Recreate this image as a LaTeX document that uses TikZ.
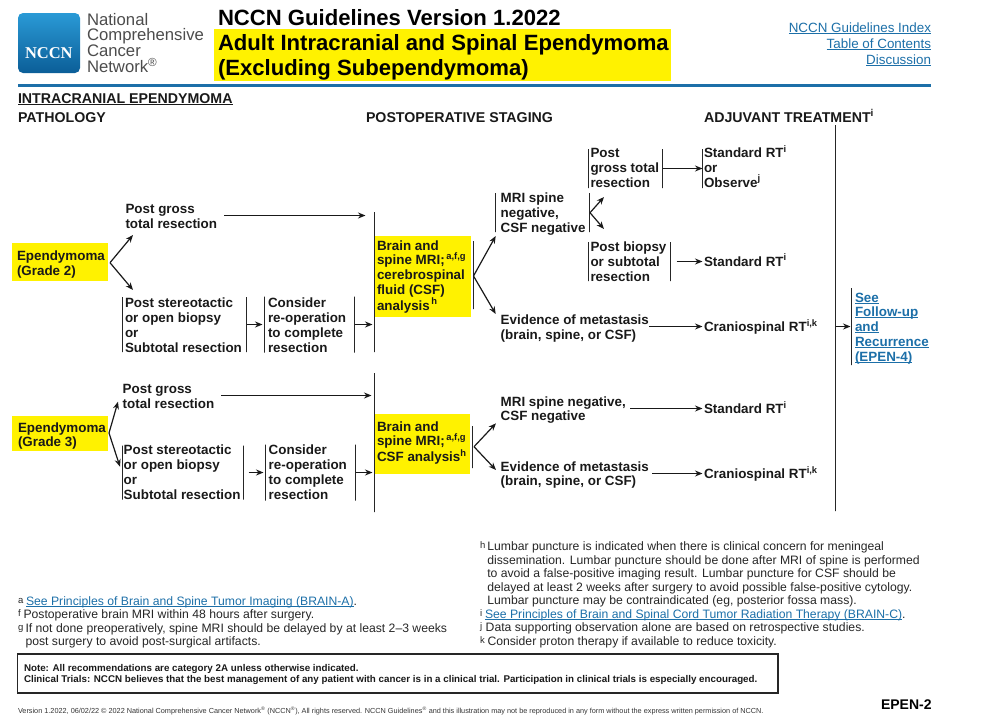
\documentclass[tikz,border=0pt]{standalone}
\usepackage{fontspec}
\setmainfont{Liberation Sans}
\newfontfamily\serifbold{Liberation Serif}
\usetikzlibrary{arrows.meta}
\definecolor{nccnblue}{HTML}{1C6FA8}
\definecolor{nccnyellow}{HTML}{FFF200}
\definecolor{logotop}{HTML}{2A9AD6}
\definecolor{logobot}{HTML}{0B5E98}
\newcommand{\uln}[1]{\setbox0\hbox{#1}\rlap{\rule[-1.3pt]{\wd0}{0.8pt}}\box0}

\begin{document}
\begin{tikzpicture}[x=1pt, y=-1pt,
    %Option for nice arrows
    >={Stealth[length=7.5pt,width=6pt]},%
    inner sep=0pt, outer sep=0pt,%
    step txt/.style={anchor=base west, align=left, font=\fontsize{13.4}{14.7}\selectfont\bfseries, text=black!90},
    link txt/.style={step txt, text=nccnblue},
    head txt/.style={anchor=base west, font=\fontsize{14.2}{14.2}\selectfont\bfseries, text=black!90},
    note txt/.style={anchor=base west, align=left, font=\fontsize{12.2}{13.5}\selectfont, text=black!85},
    notelink/.style={note txt, text=nccnblue},
    notemark/.style={anchor=base west, font=\fontsize{9.5}{9.5}\selectfont, text=black!85},
    hilite/.style={fill=nccnyellow, draw=none},
    bar/.style={draw=black!85, line width=1.2pt, minimum width=0pt, rectangle},
    arr/.style={->, line width=1.2pt, draw=black!90},
]
    \useasboundingbox (0,0) rectangle (981,720);

    % Logo
    \shade[top color=logotop, bottom color=logobot, rounded corners=5pt] (18,13) rectangle (80,73);
    \node[anchor=base west, text=white, font=\fontsize{16.5}{16.5}\selectfont\serifbold\bfseries] (logotext) at (25,58) {NCCN};
    \node[anchor=base west, align=left, text=black!70, font=\fontsize{16.7}{15.9}\selectfont] (network) at (87,72.7)
        {National\\Comprehensive\\Cancer\\Network\textsuperscript{\textregistered}};

    % Title
    \fill[nccnyellow] (214,29) rectangle (671,81);
    \node[anchor=base west, font=\fontsize{22.1}{22.1}\selectfont\bfseries] (version) at (218,25) {NCCN Guidelines Version 1.2022};
    \node[anchor=base west, align=left, font=\fontsize{22.1}{25.7}\selectfont\bfseries] (title) at (218,75.7)
        {Adult Intracranial and Spinal Ependymoma\\(Excluding Subependymoma)};
    \node[anchor=base east, align=right, text=nccnblue, font=\fontsize{13.4}{16}\selectfont] (index) at (931,64)
        {\uln{NCCN Guidelines Index}\\\uln{Table of Contents}\\\uln{Discussion}};
    \fill[nccnblue] (18,84) rectangle (931,86.5);

    % Column headings
    \node[head txt] (intra) at (18,103) {\uln{INTRACRANIAL EPENDYMOMA}};
    \node[head txt] (patho) at (18,122) {PATHOLOGY};
    \node[head txt] (staging) at (366,122) {POSTOPERATIVE STAGING};
    \node[head txt] (adjuvant) at (704,122) {ADJUVANT TREATMENT\textsuperscript{i}};

    % Highlights
    \fill[hilite] (12,243) rectangle (108,281);
    \fill[hilite] (375,236) rectangle (471,317);
    \fill[hilite] (12,416) rectangle (108,451);
    \fill[hilite] (375,414) rectangle (470,474);

    % Bars
    \foreach \name/\x/\y/\h in {
        bstereoa/122.5/324.5/55, bstereob/246.5/324.5/55, bconsa/264.5/324.5/56, bconsb/354.5/324.5/56,
        bstagea/374.5/282/140, bbraina/473.5/275/68,
        bmria/495.5/212.5/39, bmrib/589.5/212.5/39,
        bgrossa/588.5/168.5/39, bgrossb/662.5/168.5/39, bstd/702.5/168.5/39,
        bbiopa/588.5/261.5/39, bbiopb/670.5/261.5/39,
        badjuvant/835.5/318/386, bsee/851.5/326.5/77,
        bstereoc/122.5/472.5/54, bstereod/243.5/472.5/54, bconsc/265.5/472.5/56, bconsd/355.5/472.5/56,
        bstageb/374.5/442.5/139, bbrainb/472.5/447/42}
        \node[bar, minimum height=\h pt] (\name) at (\x,\y) {};

    % Grade 2
    \node[step txt] (epen2) at (17,275) {Ependymoma\\(Grade 2)};
    \node[step txt] (gross2) at (125.5,228) {Post gross\\total resection};
    \node[step txt] (stereo2) at (125,352) {Post stereotactic\\or open biopsy\\or\\Subtotal resection};
    \node[step txt] (cons2) at (268,352) {Consider\\re-operation\\to complete\\resection};
    \node[step txt] (brain2) at (377,310) {Brain and\\spine MRI;\textsuperscript{\,a,f,g}\\cerebrospinal\\fluid (CSF)\\analysis\textsuperscript{\,h}};
    \node[step txt] (mrineg) at (500.7,232) {MRI spine\\negative,\\CSF negative};
    \node[step txt] (postgross) at (590.5,187) {Post\\gross total\\resection};
    \node[step txt] (stdobs) at (704,187) {Standard RT\textsuperscript{i}\\or\\Observe\textsuperscript{j}};
    \node[step txt] (postbiop) at (590.5,281) {Post biopsy\\or subtotal\\resection};
    \node[step txt] (std2) at (704,266) {Standard RT\textsuperscript{i}};
    \node[step txt] (evid2) at (500.7,339) {Evidence of metastasis\\(brain, spine, or CSF)};
    \node[step txt] (cranio2) at (704,331.7) {Craniospinal RT\textsuperscript{i,k}};
    \node[link txt] (see) at (855,361) {\uln{See}\\\uln{Follow-up}\\\uln{and}\\\uln{Recurrence}\\\uln{(EPEN-4)}};

    % Grade 3
    \node[step txt] (epen3) at (18,446.7) {Ependymoma\\(Grade 3)};
    \node[step txt] (gross3) at (122.7,408) {Post gross\\total resection};
    \node[step txt] (stereo3) at (123.7,499) {Post stereotactic\\or open biopsy\\or\\Subtotal resection};
    \node[step txt] (cons3) at (268.7,499) {Consider\\re-operation\\to complete\\resection};
    \node[step txt] (brain3) at (377,461.7) {Brain and\\spine MRI;\textsuperscript{\,a,f,g}\\CSF analysis\textsuperscript{h}};
    \node[step txt] (mrineg3) at (500.7,420.7) {MRI spine negative,\\CSF negative};
    \node[step txt] (std3) at (704,413.3) {Standard RT\textsuperscript{i}};
    \node[step txt] (evid3) at (500.7,485.7) {Evidence of metastasis\\(brain, spine, or CSF)};
    \node[step txt] (cranio3) at (704,478.3) {Craniospinal RT\textsuperscript{i,k}};

    % Free ends of the connectors
    \coordinate (fork2) at (110,262.7);
    \coordinate (fork2a) at (133,235);
    \coordinate (fork2b) at (133,290);
    \coordinate (fork3) at (109,433);
    \coordinate (fork3a) at (118,401.7);
    \coordinate (fork3b) at (120,466.7);
    \coordinate (forkb2) at (473.5,276);
    \coordinate (forkb2a) at (495.7,236);
    \coordinate (forkb2b) at (495.7,314);
    \coordinate (forkb3) at (474,446.7);
    \coordinate (forkb3a) at (496,423.3);
    \coordinate (forkb3b) at (496,470);
    \coordinate (forkm) at (590,212.7);
    \coordinate (forkma) at (604,197);
    \coordinate (forkmb) at (604,229);
    \coordinate (gross2out) at (224,215.5);
    \coordinate (gross3out) at (221,395.5);
    \coordinate (evid2out) at (649,326.5);
    \coordinate (mri3out) at (630,408.5);
    \coordinate (evid3out) at (652,473.5);

    % Connectors
    \draw[arr] (fork2) -- (fork2a);
    \draw[arr] (fork2) -- (fork2b);
    \draw[arr] (fork3) -- (fork3a);
    \draw[arr] (fork3) -- (fork3b);
    \draw[arr] (forkb2) -- (forkb2a);
    \draw[arr] (forkb2) -- (forkb2b);
    \draw[arr] (forkb3) -- (forkb3a);
    \draw[arr] (forkb3) -- (forkb3b);
    \draw[arr] (forkm) -- (forkma);
    \draw[arr] (forkm) -- (forkmb);
    \draw[arr, shorten >=9pt] (gross2out) -- (gross2out -| bstagea);
    \draw[arr, shorten >=3pt] (gross3out) -- (gross3out -| bstageb);
    \draw[arr, shorten >=2pt] (bstereob) -- (bstereob -| bconsa);
    \draw[arr, shorten >=2pt] (bconsb) -- (bconsb -| bstagea);
    \draw[arr, shorten >=2pt, shorten <=5pt] (bstereod) -- (bstereod -| bconsc);
    \draw[arr, shorten >=2pt] (bconsd) -- (bconsd -| bstageb);
    \draw[arr] (bgrossb) -- (bstd);
    \draw[arr, shorten <=6pt] (bbiopb) -- (bbiopb -| bstd);
    \draw[arr] (evid2out) -- (evid2out -| bstd);
    \draw[arr] (mri3out) -- (mri3out -| bstd);
    \draw[arr] (evid3out) -- (evid3out -| bstd);
    \draw[arr, shorten >=1pt] (bsee -| badjuvant) -- (bsee);

    % Footnotes
    \node[notemark] (marka) at (18,603) {a};
    \node[notelink] (notea) at (26,605) {\uln{See Principles of Brain and Spine Tumor Imaging (BRAIN-A)}\textcolor{black!85}{.}};
    \node[notemark] (markf) at (18,616) {f};
    \node[note txt] (notef) at (23.5,618.3) {Postoperative brain MRI within 48 hours after surgery.};
    \node[notemark] (markg) at (18,630) {g};
    \node[note txt] (noteg) at (25.5,645.7) {If not done preoperatively, spine MRI should be delayed by at least 2--3 weeks\\post surgery to avoid post-surgical artifacts.};
    \node[notemark] (markh) at (480,548.5) {h};
    \node[note txt] (noteh) at (487.3,604.7) {Lumbar puncture is indicated when there is clinical concern for meningeal\\dissemination. Lumbar puncture should be done after MRI of spine is performed\\to avoid a false-positive imaging result. Lumbar puncture for CSF should be\\delayed at least 2 weeks after surgery to avoid possible false-positive cytology.\\Lumbar puncture may be contraindicated (eg, posterior fossa mass).};
    \node[notemark] (marki) at (480,616) {i};
    \node[notelink] (notei) at (485,618) {\uln{See Principles of Brain and Spinal Cord Tumor Radiation Therapy (BRAIN-C)}\textcolor{black!85}{.}};
    \node[notemark] (markj) at (480,629.5) {j};
    \node[note txt] (notej) at (485.7,631.7) {Data supporting observation alone are based on retrospective studies.};
    \node[notemark] (markk) at (480,643) {k};
    \node[note txt] (notek) at (487.5,645) {Consider proton therapy if available to reduce toxicity.};

    % Note box
    \draw[black!85, line width=1.6pt] (17.3,654) rectangle (778,693);
    \node[anchor=base west, align=left, font=\fontsize{9.78}{11.7}\selectfont\bfseries, text=black!90] (notebox) at (24,682.7)
        {Note: All recommendations are category 2A unless otherwise indicated.\\Clinical Trials: NCCN believes that the best management of any patient with cancer is in a clinical trial. Participation in clinical trials is especially encouraged.};

    % Footer
    \node[anchor=base west, font=\fontsize{7.3}{7.3}\selectfont, text=black!80] (version2) at (18,713.5)
        {Version 1.2022, 06/02/22 \textcopyright{} 2022 National Comprehensive Cancer Network\textsuperscript{\textregistered} (NCCN\textsuperscript{\textregistered}), All rights reserved. NCCN Guidelines\textsuperscript{\textregistered} and this illustration may not be reproduced in any form without the express written permission of NCCN.};
    \node[anchor=base west, font=\fontsize{14}{14}\selectfont\bfseries] (page) at (881,709) {EPEN-2};
\end{tikzpicture}
\end{document}
